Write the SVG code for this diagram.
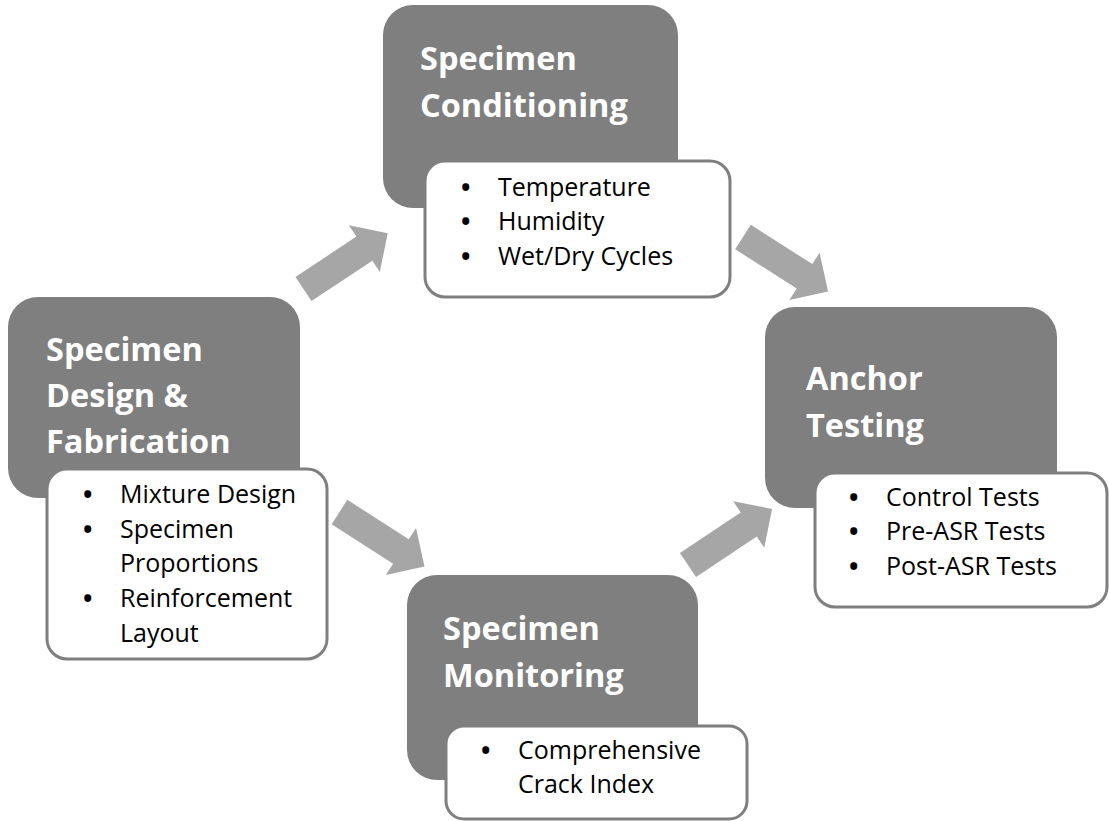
<svg xmlns="http://www.w3.org/2000/svg" xmlns:xlink="http://www.w3.org/1999/xlink" width="1109" height="821" viewBox="0 0 1109 821">
  <style>
    .head { fill: #7f7f7f; }
    .detail { fill: #ffffff; stroke: #7f7f7f; stroke-width: 3; }
    .title { font-family: "Open Sans", "Liberation Sans", sans-serif; font-weight: bold; font-size: 32.5px; fill: #ffffff; }
    .item { font-family: "Open Sans", "Liberation Sans", sans-serif; font-size: 25px; fill: #000000; }
    .dot { font-weight: bold; }
    .flow { fill: #a6a6a6; }
  </style>
  <defs>
    <!-- block arrow pointing along +x, tail centred at origin -->
    <polygon id="block-arrow" points="0,-14.5 73,-14.5 73,-28 101,0 73,28 73,14.5 0,14.5"/>
  </defs>
  <rect width="1109" height="821" fill="#ffffff"/>

  <g id="connectors" class="flow">
    <use xlink:href="#block-arrow" transform="translate(303.5,289) rotate(-33.5)"/>
    <use xlink:href="#block-arrow" transform="translate(743,237) rotate(32.6)"/>
    <use xlink:href="#block-arrow" transform="translate(339.5,512) rotate(32.7)"/>
    <use xlink:href="#block-arrow" transform="translate(688,565) rotate(-33.7)"/>
  </g>

  <g id="node-conditioning">
    <rect class="head" x="383" y="5" width="295" height="203" rx="30"/>
    <text class="title" x="420" y="70">Specimen</text>
    <text class="title" x="420" y="117">Conditioning</text>
    <rect class="detail" x="425" y="161" width="305" height="136" rx="20"/>
    <text class="item"><tspan class="dot" x="461" y="196">•</tspan><tspan x="498" y="196">Temperature</tspan></text>
    <text class="item"><tspan class="dot" x="461" y="230">•</tspan><tspan x="498" y="230">Humidity</tspan></text>
    <text class="item"><tspan class="dot" x="461" y="265">•</tspan><tspan x="498" y="265">Wet/Dry Cycles</tspan></text>
  </g>

  <g id="node-design">
    <rect class="head" x="8" y="297" width="292" height="201" rx="30"/>
    <text class="title" x="46" y="361">Specimen</text>
    <text class="title" x="46" y="407">Design &amp;</text>
    <text class="title" x="46" y="453">Fabrication</text>
    <rect class="detail" x="47" y="469" width="280" height="190" rx="20"/>
    <text class="item"><tspan class="dot" x="83" y="503">•</tspan><tspan x="120" y="503">Mixture Design</tspan></text>
    <text class="item"><tspan class="dot" x="83" y="538">•</tspan><tspan x="120" y="538">Specimen</tspan></text>
    <text class="item"><tspan x="120" y="572">Proportions</tspan></text>
    <text class="item"><tspan class="dot" x="83" y="607">•</tspan><tspan x="120" y="607">Reinforcement</tspan></text>
    <text class="item"><tspan x="120" y="642">Layout</tspan></text>
  </g>

  <g id="node-anchor">
    <rect class="head" x="765" y="307" width="292" height="201" rx="30"/>
    <text class="title" x="806" y="390">Anchor</text>
    <text class="title" x="806" y="437">Testing</text>
    <rect class="detail" x="815" y="473" width="292" height="134" rx="20"/>
    <text class="item"><tspan class="dot" x="849" y="506">•</tspan><tspan x="886" y="506">Control Tests</tspan></text>
    <text class="item"><tspan class="dot" x="849" y="540">•</tspan><tspan x="886" y="540">Pre-ASR Tests</tspan></text>
    <text class="item"><tspan class="dot" x="849" y="575">•</tspan><tspan x="886" y="575">Post-ASR Tests</tspan></text>
  </g>

  <g id="node-monitoring">
    <rect class="head" x="407" y="575" width="291" height="205" rx="30"/>
    <text class="title" x="443" y="640">Specimen</text>
    <text class="title" x="443" y="687">Monitoring</text>
    <rect class="detail" x="446" y="726" width="301" height="93" rx="18"/>
    <text class="item"><tspan class="dot" x="481" y="759">•</tspan><tspan x="518" y="759">Comprehensive</tspan></text>
    <text class="item"><tspan x="518" y="793">Crack Index</tspan></text>
  </g>
</svg>
